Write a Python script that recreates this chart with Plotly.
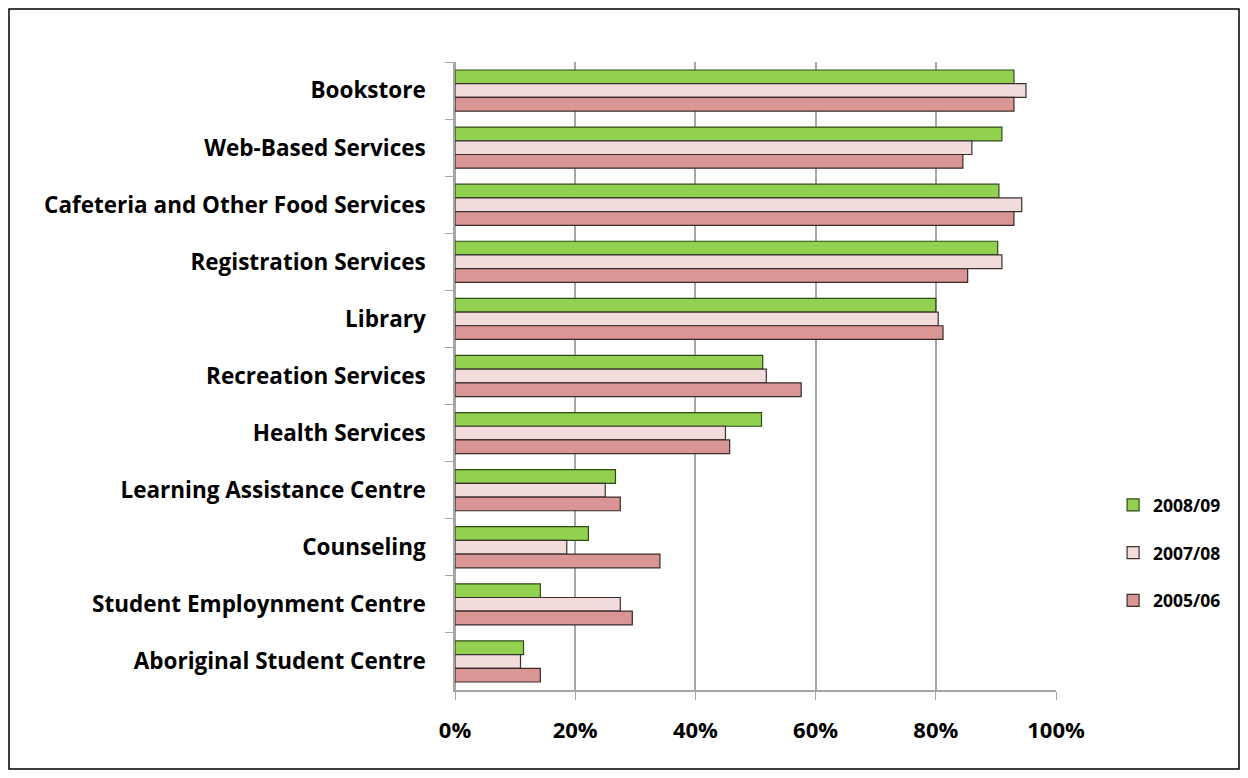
import plotly.graph_objects as go

services = [
    "Bookstore",
    "Web-Based Services",
    "Cafeteria and Other Food Services",
    "Registration Services",
    "Library",
    "Recreation Services",
    "Health Services",
    "Learning Assistance Centre",
    "Counseling",
    "Student Employnment Centre",
    "Aboriginal Student Centre",
]

y2008_09 = [0.93, 0.91, 0.905, 0.903, 0.80, 0.512, 0.51, 0.267, 0.222, 0.142, 0.114]
y2007_08 = [0.95, 0.86, 0.943, 0.91, 0.804, 0.518, 0.45, 0.25, 0.186, 0.275, 0.109]
y2005_06 = [0.93, 0.845, 0.93, 0.853, 0.812, 0.576, 0.457, 0.275, 0.341, 0.295, 0.142]

series = [
    ("2008/09", y2008_09, "#92D050", "#2E4A17"),
    ("2007/08", y2007_08, "#F2DCDB", "#3A3030"),
    ("2005/06", y2005_06, "#D99694", "#3A2A2A"),
]

# page has an 8px body margin, so the figure is drawn 8px smaller
W, H = 1232, 762
L, R, T, B = 447, 184, 54, 80

fig = go.Figure()
for name, vals, color, edge in series:
    fig.add_trace(go.Bar(
        y=services,
        x=vals,
        name=name,
        orientation="h",
        legendgroup=name,
        marker=dict(color=color, line=dict(color=edge, width=1.2)),
    ))

pw = W - L - R
ph = H - T - B
fig.add_shape(
    type="rect", xref="paper", yref="paper",
    x0=(1 - L) / pw, x1=(W - 1 - L) / pw,
    y0=-(B - 1) / ph, y1=(H - B - 1) / ph,
    line=dict(color="black", width=1.5), fillcolor="rgba(0,0,0,0)",
    layer="below",
)

fig.update_layout(
    width=W, height=H,
    margin=dict(l=L, r=R, t=T, b=B, autoexpand=False),
    paper_bgcolor="white",
    plot_bgcolor="white",
    barmode="group",
    bargap=0.28,
    bargroupgap=0.0,
    font=dict(family="Open Sans", size=18, color="black"),
    showlegend=True,
    legend=dict(
        x=1.095, y=0.218, xanchor="left", yanchor="middle",
        font=dict(family="Open Sans", size=17.5, color="black", weight="bold"),
        tracegroupgap=22,
        bgcolor="rgba(0,0,0,0)",
    ),
)
fig.update_xaxes(
    range=[0, 1.0],
    tickvals=[0, 0.2, 0.4, 0.6, 0.8, 1.0],
    tickformat=".0%",
    showgrid=True, gridcolor="#A6A6A6", gridwidth=1.5,
    zeroline=True, zerolinecolor="#A6A6A6", zerolinewidth=1.5,
    showline=True, linecolor="#A6A6A6", linewidth=1.5,
    ticks="outside", ticklen=8, tickcolor="#A6A6A6",
    tickfont=dict(family="Open Sans", size=22, color="black", weight="bold"),
    ticklabelstandoff=12,
    fixedrange=True,
)
fig.update_yaxes(
    autorange="reversed",
    showline=True, linecolor="#A6A6A6", linewidth=1.5,
    ticks="outside", tickson="boundaries", ticklen=8, tickcolor="#A6A6A6",
    tickfont=dict(family="Open Sans", size=22.5, color="black", weight="bold"),
    ticklabelstandoff=23,
    showgrid=False,
    fixedrange=True,
)

fig.write_html("out.html")
